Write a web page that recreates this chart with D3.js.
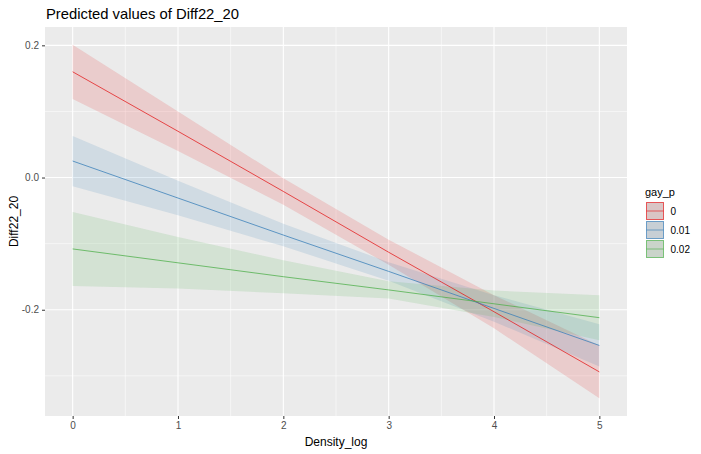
<!DOCTYPE html>
<html><head><meta charset="utf-8">
<script src="https://cdn.jsdelivr.net/npm/d3@7"></script>
<style>body{margin:0;background:#fff}svg{display:block}text{font-family:"Liberation Sans",Arial,sans-serif}</style>
</head><body><svg id="c" width="701" height="454"></svg>
<script>
const xValues = [0, 1, 2, 3, 4, 5];
const groups = ["0", "0.01", "0.02"];
const colors = ["#E41A1C", "#377EB8", "#4DAF4A"];
const predicted = [
  [0.160, 0.070, -0.021, -0.113, -0.203, -0.294],
  [0.025, -0.031, -0.087, -0.142, -0.198, -0.254],
  [-0.108, -0.129, -0.150, -0.170, -0.191, -0.212]
];
const lower = [
  [0.119, 0.040, -0.041, -0.132, -0.228, -0.334],
  [-0.013, -0.057, -0.104, -0.156, -0.218, -0.286],
  [-0.164, -0.168, -0.175, -0.183, -0.211, -0.246]
];
const upper = [
  [0.201, 0.100, -0.001, -0.094, -0.178, -0.254],
  [0.063, -0.005, -0.070, -0.128, -0.178, -0.222],
  [-0.052, -0.090, -0.125, -0.157, -0.171, -0.178]
];
const xTicks = [0, 1, 2, 3, 4, 5];
const xMinor = [0.5, 1.5, 2.5, 3.5, 4.5];
const yTicks = [-0.2, 0.0, 0.2];
const yMinor = [-0.3, -0.1, 0.1];

const svg = d3.select("#c");
const L = 45, R = 627, T = 27, B = 416;
const x = d3.scaleLinear().domain([-0.2625, 5.2625]).range([L, R]);
const allMin = d3.min(lower.flat()), allMax = d3.max(upper.flat());
const pad = (allMax - allMin) * 0.05;
const y = d3.scaleLinear().domain([allMin - pad, allMax + pad]).range([B, T]);

svg.append("rect").attr("x", L).attr("y", T).attr("width", R - L).attr("height", B - T).attr("fill", "#EBEBEB");
const g = svg.append("g");
g.selectAll(".vmin").data(xMinor).join("line").attr("x1", d => x(d)).attr("x2", d => x(d)).attr("y1", T).attr("y2", B).attr("stroke", "#fff").attr("stroke-width", 0.55);
g.selectAll(".hmin").data(yMinor).join("line").attr("y1", d => y(d)).attr("y2", d => y(d)).attr("x1", L).attr("x2", R).attr("stroke", "#fff").attr("stroke-width", 0.55);
g.selectAll(".vmaj").data(xTicks).join("line").attr("x1", d => x(d)).attr("x2", d => x(d)).attr("y1", T).attr("y2", B).attr("stroke", "#fff").attr("stroke-width", 1.1);
g.selectAll(".hmaj").data(yTicks).join("line").attr("y1", d => y(d)).attr("y2", d => y(d)).attr("x1", L).attr("x2", R).attr("stroke", "#fff").attr("stroke-width", 1.1);

const area = d3.area().x((d, i) => x(xValues[i])).y0(d => y(d[0])).y1(d => y(d[1]));
const line = d3.line().x((d, i) => x(xValues[i])).y(d => y(d));
groups.forEach((gr, k) => {
  const pts = lower[k].map((v, i) => [v, upper[k][i]]);
  svg.append("path").attr("d", area(pts)).attr("fill", colors[k]).attr("fill-opacity", 0.15);
});
groups.forEach((gr, k) => {
  svg.append("path").attr("d", line(predicted[k])).attr("fill", "none").attr("stroke", colors[k]).attr("stroke-width", 0.9).attr("stroke-opacity", 0.85);
});

// axes
const xAxis = d3.axisBottom(x).tickValues(xTicks).tickFormat(d3.format("d")).tickSize(3).tickPadding(3);
const xa = svg.append("g").attr("transform", `translate(0,${B})`).call(xAxis);
const yAxis = d3.axisLeft(y).tickValues(yTicks).tickFormat(d => d3.format(".1f")(d).replace("\u2212", "-")).tickSize(3).tickPadding(3);
const ya = svg.append("g").attr("transform", `translate(${L},0)`).call(yAxis);
[xa, ya].forEach(a => {
  a.select(".domain").remove();
  a.selectAll(".tick line").attr("stroke", "#333").attr("stroke-width", 1);
  a.selectAll(".tick text").attr("fill", "#4D4D4D").style("font-size", "10px").style("font-family", "Liberation Sans, Arial, sans-serif");
});

svg.append("text").attr("x", 46).attr("y", 19).attr("font-size", 14.8).attr("fill", "#000").text("Predicted values of Diff22_20");
svg.append("text").attr("x", (L + R) / 2).attr("y", 446).attr("text-anchor", "middle").attr("font-size", 12).attr("fill", "#000").text("Density_log");
svg.append("text").attr("transform", `translate(17.5,${(T + B) / 2}) rotate(-90)`).attr("text-anchor", "middle").attr("font-size", 12).attr("fill", "#000").text("Diff22_20");

// legend
const lg = svg.append("g").attr("transform", "translate(645,0)");
lg.append("text").attr("x", 0).attr("y", 196).attr("font-size", 11).text("gay_p");
groups.forEach((gr, k) => {
  const y0 = 202.5 + k * 19;
  lg.append("rect").attr("x", 1.5).attr("y", y0).attr("width", 17).attr("height", 17).attr("fill", "#D9D9D9");
  lg.append("rect").attr("x", 1.5).attr("y", y0).attr("width", 17).attr("height", 17).attr("fill", colors[k]).attr("fill-opacity", 0.1).attr("stroke", colors[k]).attr("stroke-opacity", 0.7).attr("stroke-width", 1);
  lg.append("line").attr("x1", 1.5).attr("x2", 18.5).attr("y1", y0 + 8.5).attr("y2", y0 + 8.5).attr("stroke", colors[k]).attr("stroke-opacity", 0.7).attr("stroke-width", 0.9);
  lg.append("text").attr("x", 25.5).attr("y", y0 + 12).attr("font-size", 10).attr("fill", "#000").text(gr);
});
</script></body></html>
